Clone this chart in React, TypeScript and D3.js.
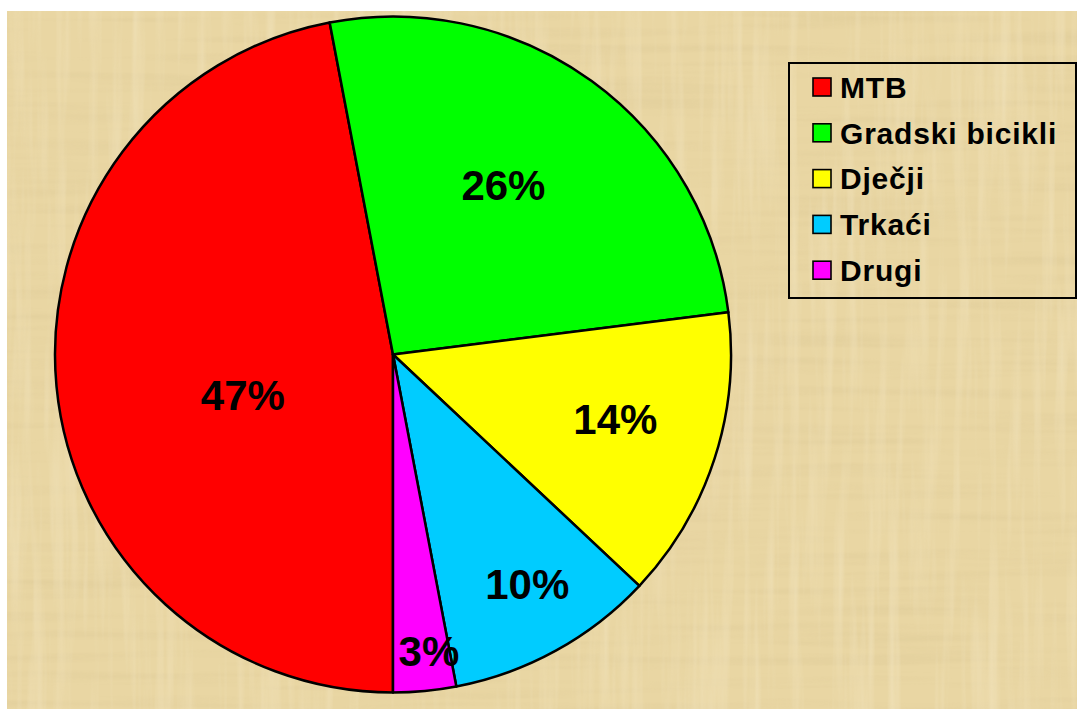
import * as React from 'react';
import * as d3 from 'd3';

const categories = ['MTB', 'Gradski bicikli', 'Dječji', 'Trkaći', 'Drugi'];
const values = [47, 26, 14, 10, 3];
const colors = ['#ff0000', '#00ff00', '#ffff00', '#00ccff', '#ff00ff'];
// best-fit label placement (fraction of radius, angle nudge in degrees)
const labelRadius = [0.46, 0.6, 0.685, 0.787, 0.884];
const labelNudge = [-9.7, -3, -1.8, -1.5, -1.5];

const W = 1077;
const H = 709;
const cx = 393;
const cy = 354.5;
const radius = 338;
const font = '"Liberation Sans", Arial, Helvetica, sans-serif';

const App: React.FunctionComponent = () => {
    const pie = d3.pie<number>().sort(null).startAngle(Math.PI).endAngle(3 * Math.PI);
    const arcs = pie(values);
    const arc = d3.arc<d3.PieArcDatum<number>>().innerRadius(0).outerRadius(radius);
    const total = d3.sum(values);

    const legend = { x: 789, y: 63, w: 287, h: 235, rowTop: 87, rowGap: 45.8 };

    return (
        <svg width={W} height={H} style={{ position: 'absolute', left: 0, top: 0, display: 'block' }}>
            <defs>
                <filter id="paper" x="0" y="0" width="100%" height="100%">
                    <feTurbulence type="fractalNoise" baseFrequency="0.004 0.09" numOctaves={3} seed={4} result="h" />
                    <feColorMatrix in="h" type="matrix"
                        values="0 0 0 0 0.62  0 0 0 0 0.5  0 0 0 0 0.25  1.1 0 0 0 -0.5" result="hc" />
                    <feTurbulence type="fractalNoise" baseFrequency="0.09 0.005" numOctaves={3} seed={9} result="v" />
                    <feColorMatrix in="v" type="matrix"
                        values="0 0 0 0 1  0 0 0 0 0.95  0 0 0 0 0.8  1.1 0 0 0 -0.5" result="vc" />
                    <feMerge>
                        <feMergeNode in="hc" />
                        <feMergeNode in="vc" />
                    </feMerge>
                </filter>
            </defs>
            <rect x={0} y={0} width={W} height={H} fill="#ffffff" />
            <rect x={7} y={11} width={W - 7} height={H - 11} fill="#e9d6a3" />
            <rect x={7} y={11} width={W - 7} height={H - 11} fill="#e9d6a3" filter="url(#paper)" opacity={0.45} />

            <g transform={`translate(${cx},${cy})`}>
                {arcs.map((d, i) => (
                    <path key={categories[i]} d={arc(d) as string} fill={colors[i]}
                        stroke="#000" strokeWidth={2.5} strokeLinejoin="round" />
                ))}
                {arcs.map((d, i) => {
                    const a = (d.startAngle + d.endAngle) / 2 + labelNudge[i] * Math.PI / 180;
                    const r = radius * labelRadius[i];
                    const x = Math.sin(a) * r;
                    const y = -Math.cos(a) * r;
                    return (
                        <text key={'l' + i} x={x} y={y} dy="0.36em" textAnchor="middle"
                            fontFamily={font} fontWeight="bold" fontSize={42} fill="#000">
                            {d3.format('.0%')(d.data / total)}
                        </text>
                    );
                })}
            </g>

            <rect x={legend.x} y={legend.y} width={legend.w} height={legend.h}
                fill="none" stroke="#000" strokeWidth={2} />
            {categories.map((c, i) => {
                const yc = legend.rowTop + i * legend.rowGap;
                return (
                    <g key={'g' + c}>
                        <rect x={813} y={yc - 9} width={18} height={18} fill={colors[i]}
                            stroke="#000" strokeWidth={1.6} />
                        <text x={840} y={yc} dy="0.36em" fontFamily={font} fontWeight="bold"
                            fontSize={30} letterSpacing={0.8} fill="#000">{c}</text>
                    </g>
                );
            })}
        </svg>
    );
};

export default App;
